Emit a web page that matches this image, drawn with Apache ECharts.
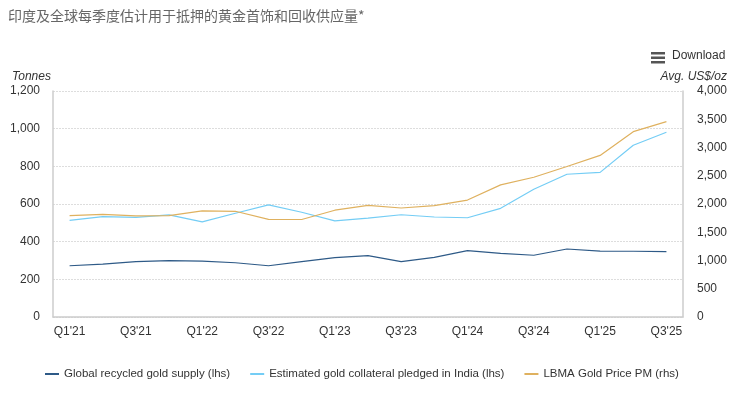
<!DOCTYPE html>
<html>
<head>
<meta charset="utf-8">
<script src="https://cdn.jsdelivr.net/npm/echarts@6/dist/echarts.min.js"></script>
<style>
  html, body { margin: 0; padding: 0; background: #fff; }
  #box { width: 741px; height: 398px; }
</style>
</head>
<body>
<div id="box"></div>
<script>
var quarters = ["Q1'21","Q2'21","Q3'21","Q4'21","Q1'22","Q2'22","Q3'22","Q4'22","Q1'23","Q2'23","Q3'23","Q4'23","Q1'24","Q2'24","Q3'24","Q4'24","Q1'25","Q2'25","Q3'25"];
var recycled = [272, 281, 294, 299, 297, 288, 272, 294, 315, 326, 294, 317, 352, 338, 328, 361, 350, 349, 347];
var collateral = [513, 533, 529, 542, 505, 551, 595, 556, 510, 525, 543, 531, 527, 577, 678, 758, 768, 912, 981];
var goldPrice = [1794, 1816, 1789, 1795, 1877, 1871, 1729, 1726, 1890, 1976, 1929, 1971, 2070, 2338, 2474, 2663, 2860, 3280, 3457];

var font = 'Liberation Sans, Arial, sans-serif';
var myChart = echarts.init(document.getElementById('box'));

var option = {
    animation: false,
    textStyle: { fontFamily: font },
    title: {
        text: '印度及全球每季度估计用于抵押的黄金首饰和回收供应量*',
        left: 3,
        top: 4,
        textStyle: { fontFamily: 'Noto Sans CJK SC', fontSize: 14, fontWeight: 'normal', color: '#666' }
    },
    graphic: [
        { type: 'rect', left: 651, top: 52, shape: { width: 14, height: 2.5 }, style: { fill: '#555' } },
        { type: 'rect', left: 651, top: 56.5, shape: { width: 14, height: 2.5 }, style: { fill: '#555' } },
        { type: 'rect', left: 651, top: 61, shape: { width: 14, height: 2.5 }, style: { fill: '#555' } },
        { type: 'text', left: 672, top: 50, style: { text: 'Download', font: '12px ' + font, fill: '#333' } }
    ],
    legend: {
        left: 40,
        top: 363,
        itemWidth: 14,
        itemHeight: 2,
        itemGap: 20,
        icon: 'rect',
        textStyle: { fontSize: 11.5, color: '#333', fontFamily: font },
        data: ['Global recycled gold supply (lhs)', 'Estimated gold collateral pledged in India (lhs)', 'LBMA Gold Price PM (rhs)']
    },
    grid: { left: 53, right: 58, top: 91, bottom: 81, containLabel: false },
    xAxis: {
        type: 'category',
        data: quarters,
        boundaryGap: true,
        axisLine: { show: true, lineStyle: { color: '#ccc', width: 1.5 } },
        axisTick: { show: false },
        axisLabel: { interval: 1, color: '#333', fontSize: 12, margin: 9 }
    },
    yAxis: [
        {
            type: 'value',
            min: 0, max: 1200, interval: 200,
            name: 'Tonnes',
            nameLocation: 'end',
            nameGap: 8,
            nameTextStyle: { fontStyle: 'italic', color: '#333', fontSize: 12, align: 'left', padding: [0, 0, 0, -41] },
            axisLine: { show: true, lineStyle: { color: '#ccc', width: 1.5 } },
            axisTick: { show: false },
            axisLabel: { color: '#333', fontSize: 12, margin: 13 },
            splitLine: { show: true, lineStyle: { color: '#ddd', type: [2, 1], width: 1 } }
        },
        {
            type: 'value',
            min: 0, max: 4000, interval: 500,
            name: 'Avg. US$/oz',
            nameLocation: 'end',
            nameGap: 8,
            nameTextStyle: { fontStyle: 'italic', color: '#333', fontSize: 12, align: 'right', padding: [0, -44, 0, 0] },
            axisLine: { show: true, lineStyle: { color: '#ccc', width: 1.5 } },
            axisTick: { show: false },
            axisLabel: { color: '#333', fontSize: 12, margin: 14 },
            splitLine: { show: false }
        }
    ],
    series: [
        {
            name: 'Global recycled gold supply (lhs)',
            type: 'line',
            yAxisIndex: 0,
            data: recycled,
            symbol: 'none',
            color: '#2e5a87',
            lineStyle: { width: 1.2 }
        },
        {
            name: 'Estimated gold collateral pledged in India (lhs)',
            type: 'line',
            yAxisIndex: 0,
            data: collateral,
            symbol: 'none',
            color: '#74cdf5',
            lineStyle: { width: 1.2 }
        },
        {
            name: 'LBMA Gold Price PM (rhs)',
            type: 'line',
            yAxisIndex: 1,
            data: goldPrice,
            symbol: 'none',
            color: '#dfb15f',
            lineStyle: { width: 1.2 }
        }
    ]
};

myChart.setOption(option);
</script>
</body>
</html>
